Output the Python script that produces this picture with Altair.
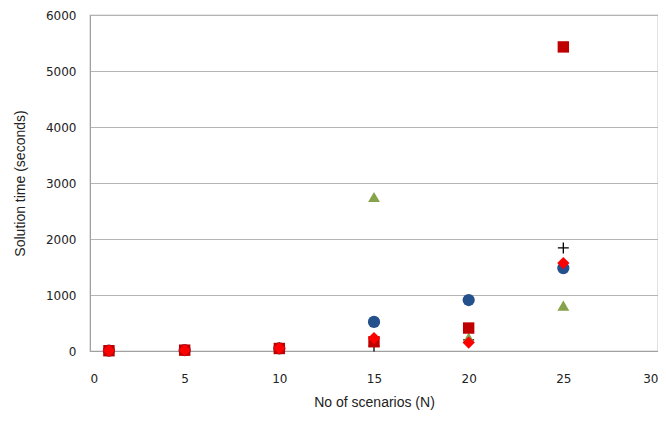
import altair as alt
import pandas as pd

N = [1, 5, 10, 15, 20, 25]
circle_vals = [5, 15, 45, 520, 910, 1480]
triangle_vals = [5, 15, 45, 2750, 240, 810]
square_vals = [5, 15, 45, 165, 410, 5430]
diamond_vals = [5, 15, 50, 230, 150, 1570]
plus_vals = [5, 15, 60, 90, 200, 1840]

x_scale = alt.Scale(domain=[0, 30], nice=False)
y_scale = alt.Scale(domain=[0, 6000], nice=False)

def layer(vals, shape, color, size, filled=True, stroke_width=None):
    df = pd.DataFrame({"N": N, "t": vals})
    kw = dict(shape=shape, size=size, opacity=1)
    if filled:
        kw.update(filled=True, color=color, strokeWidth=0)
    else:
        kw.update(filled=False, stroke=color, strokeWidth=stroke_width or 1.2)
    return alt.Chart(df).mark_point(**kw).encode(
        x=alt.X("N:Q", scale=x_scale,
                axis=alt.Axis(values=[0, 5, 10, 15, 20, 25, 30], title="No of scenarios (N)",
                              format="d",
                              grid=False, ticks=False, labelPadding=22, titlePadding=11,
                              domainColor="#a0a0a0", labelFont="DejaVu Sans", labelFontSize=12,
                              labelColor="#222", titleFont="Liberation Sans", titleFontSize=14,
                              titleFontWeight="normal", titleColor="#222")),
        y=alt.Y("t:Q", scale=y_scale,
                axis=alt.Axis(values=[0, 1000, 2000, 3000, 4000, 5000, 6000], format="d",
                              title="Solution time (seconds)", grid=True, gridColor="#b4b4b4",
                              gridWidth=1.2, ticks=False, labelPadding=14, titlePadding=18,
                              domainColor="#a0a0a0", labelFont="DejaVu Sans", labelFontSize=12,
                              labelColor="#222", titleFont="Liberation Sans", titleFontSize=14,
                              titleFontWeight="normal", titleColor="#222")),
    )

chart = alt.layer(
    layer(plus_vals, "M-1,0H1M0,-1V1", "#000000", 120, filled=False, stroke_width=1.3),
    layer(circle_vals, "circle", "#24508C", 150),
    layer(triangle_vals, "triangle-up", "#86A24A", 140),
    layer(square_vals, "square", "#C00000", 130),
    layer(diamond_vals, "diamond", "#FF0000", 150),
).properties(
    width=568, height=336,
    autosize=alt.AutoSizeParams(type="none"),
    padding={"left": 82, "top": 7, "right": 0, "bottom": 62},
).configure_view(stroke="#a0a0a0", strokeWidth=1.2)

chart.save("out.html", embed_options={"renderer": "svg", "actions": False})
